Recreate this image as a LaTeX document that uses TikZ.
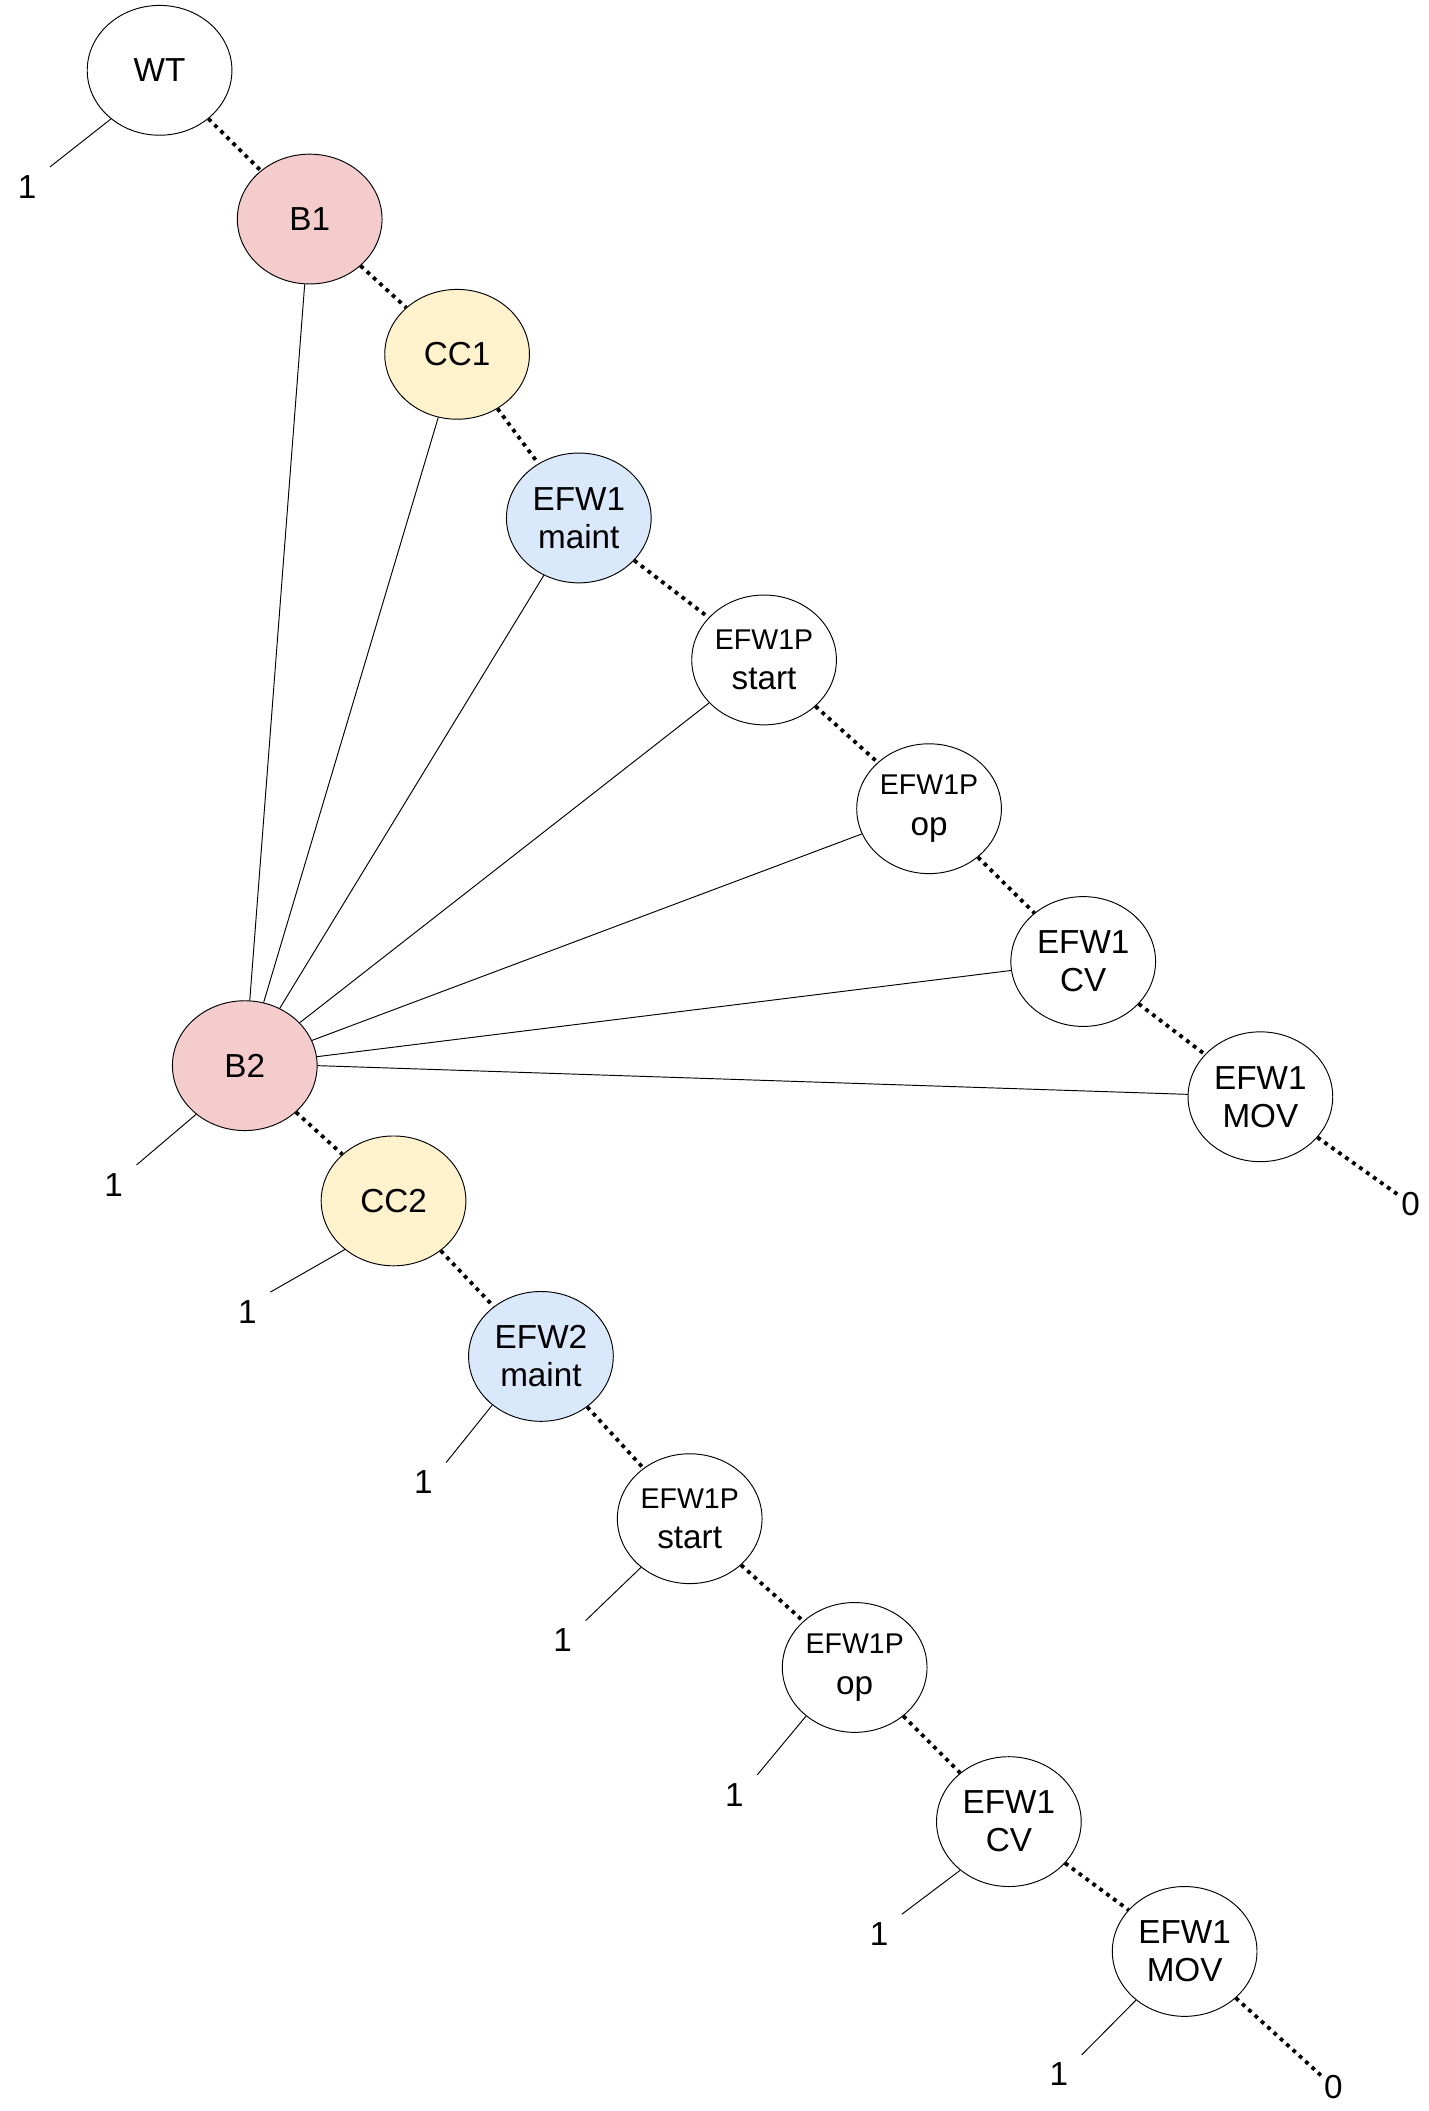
\documentclass[tikz,border=0pt]{standalone}
\usepackage{fontspec}
\setmainfont{Liberation Sans}
\usetikzlibrary{shapes.geometric}
\begin{document}
\begin{tikzpicture}[x=0.02cm,y=-0.02cm,
 n/.style={draw,ellipse,minimum width=107*0.02cm,minimum height=96*0.02cm,inner sep=0pt,align=center,font=\fontsize{14}{16}\selectfont},
 s/.style={n,font=\fontsize{12}{17}\selectfont},
 red/.style={fill={rgb,255:red,244;green,204;blue,204}},
 yel/.style={fill={rgb,255:red,255;green,242;blue,204}},
 blu/.style={fill={rgb,255:red,218;green,232;blue,252}},
 dot/.style={line width=1.6pt,dotted},
 lab/.style={font=\fontsize{14}{16}\selectfont,inner sep=1pt}]
\useasboundingbox (0,0) rectangle (1056,1561);
\node[n] (wt) at (118,52) {WT};
\node[n,red] (b1) at (229,162) {B1};
\node[n,yel] (cc1) at (338,262) {CC1};
\node[n,blu] (m1) at (428,383) {EFW1\\maint};
\node[s] (s1) at (565,488) {EFW1P\\\fontsize{14}{16}\selectfont start};
\node[s] (o1) at (687,598) {EFW1P\\\fontsize{14}{16}\selectfont op};
\node[n] (c1) at (801,711) {EFW1\\CV};
\node[n] (v1) at (932,811) {EFW1\\MOV};
\node[n,red] (b2) at (181,788) {B2};
\node[n,yel] (cc2) at (291,888) {CC2};
\node[n,blu] (m2) at (400,1003) {EFW2\\maint};
\node[s] (s2) at (510,1123) {EFW1P\\\fontsize{14}{16}\selectfont start};
\node[s] (o2) at (632,1233) {EFW1P\\\fontsize{14}{16}\selectfont op};
\node[n] (c2) at (746,1347) {EFW1\\CV};
\node[n] (v2) at (876,1443) {EFW1\\MOV};
\node[lab] (z1) at (1043,890) {0};
\node[lab] (z2) at (986,1543) {0};
\draw[dot] (wt)--(b1)--(cc1)--(m1)--(s1)--(o1)--(c1)--(v1)--(z1);
\draw[dot] (b2)--(cc2)--(m2)--(s2)--(o2)--(c2)--(v2)--(z2);
\foreach \t in {b1,cc1,m1,s1,o1,c1} \draw (b2)--(\t);
\draw (b2.east)--(v1);
\foreach \nd/\x/\y in {wt/20/138,b2/84/876,cc2/183/970,m2/313/1096,s2/416/1213,o2/543/1327,c2/650/1430,v2/783/1534}{
 \node[lab] (l\nd) at (\x,\y) {1};
 \path (l\nd.north east)++(8,-4) coordinate (e\nd);
 \draw (e\nd)--(\nd.225);
}
\end{tikzpicture}
\end{document}
